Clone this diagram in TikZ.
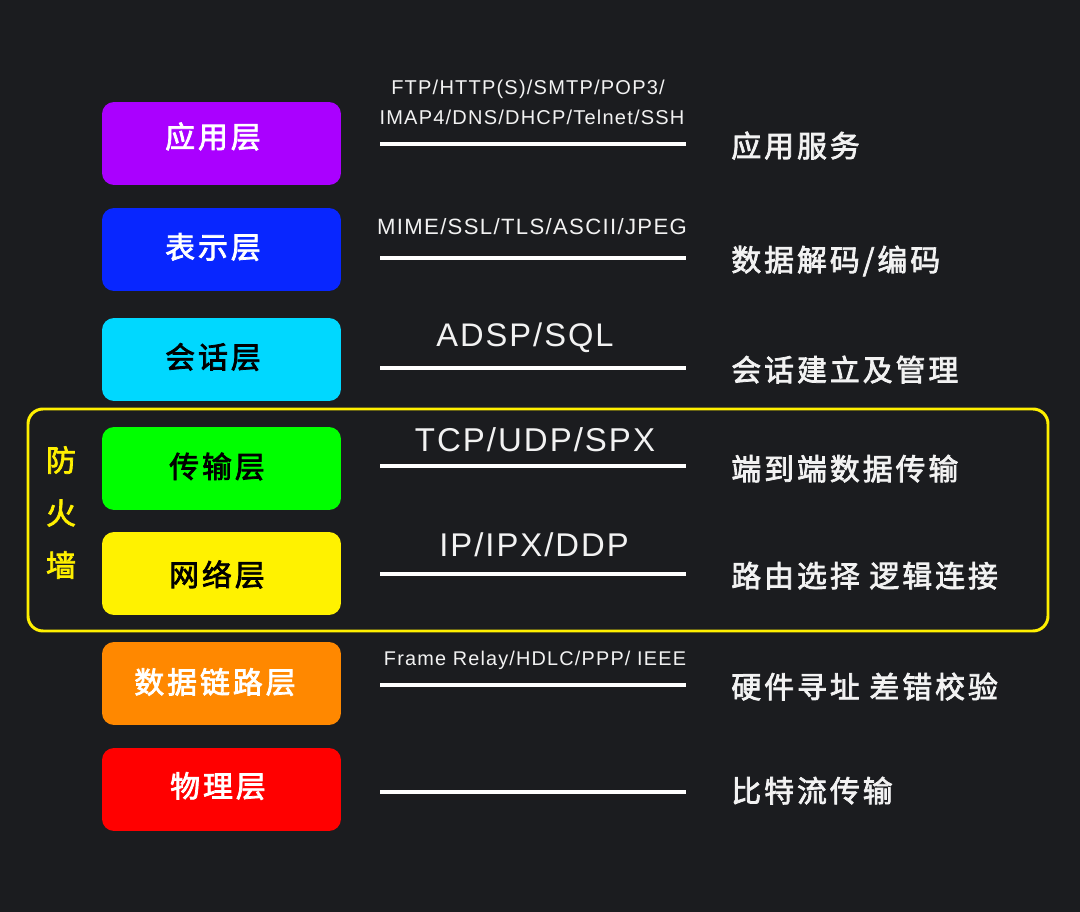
\documentclass[tikz,border=0pt]{standalone}
\usepackage{fontspec}
\setmainfont[LetterSpace=6]{Liberation Sans}
\newfontfamily\cjk[LetterSpace=10,FakeBold=2.5]{Noto Sans CJK SC}
\usetikzlibrary{positioning}

\definecolor{bgdark}{HTML}{1B1C1F}
\definecolor{appcol}{HTML}{AA00FF}
\definecolor{prescol}{HTML}{0826FF}
\definecolor{sesscol}{HTML}{00D8FF}
\definecolor{transcol}{HTML}{00FF00}
\definecolor{netcol}{HTML}{FFF200}
\definecolor{linkcol}{HTML}{FF8800}
\definecolor{physcol}{HTML}{FF0000}
\definecolor{wallcol}{HTML}{FFF000}
\definecolor{softwhite}{HTML}{F2F2F2}

\tikzset{
  layer/.style={rounded corners=0.24cm, minimum width=4.78cm, minimum height=1.66cm, inner sep=0pt},
  layertext/.style={inner sep=0pt, font=\cjk\fontsize{17}{19}\selectfont},
  proto/.style={anchor=base, inner sep=0pt, text=softwhite},
  func/.style={anchor=base west, inner sep=0pt, text=softwhite,
               font=\cjk\fontsize{17}{19}\selectfont},
  sepline/.style={draw=white, line width=2.2pt},
}

\begin{document}
\begin{tikzpicture}[x=0.02cm,y=-0.02cm]
    \fill[bgdark] (0,0) rectangle (1080,912);
    \useasboundingbox (0,0) rectangle (1080,912);

    % firewall frame
    \draw[wallcol, line width=1.7pt, rounded corners=0.3cm] (28,409) rectangle (1048,631);
    \node[layertext, text=wallcol] (wall1) at (61,460) {防};
    \node[layertext, text=wallcol] (wall2) at (61,513) {火};
    \node[layertext, text=wallcol] (wall3) at (61,565) {墙};

    % layers
    \node[layer, fill=appcol] (app) at (221.5,143.5) {};
    \node[layer, fill=prescol] (pres) at (221.5,249.5) {};
    \node[layer, fill=sesscol] (sess) at (221.5,359.5) {};
    \node[layer, fill=transcol] (trans) at (221.5,468.5) {};
    \node[layer, fill=netcol] (net) at (221.5,573.5) {};
    \node[layer, fill=linkcol] (link) at (221.5,683.5) {};
    \node[layer, fill=physcol] (phys) at (221.5,789.5) {};
    \node[layertext, text=white] (appL) at (213,136.5) {应用层};
    \node[layertext, text=white] (presL) at (213,247) {表示层};
    \node[layertext, text=black] (sessL) at (213,357) {会话层};
    \node[layertext, text=black] (transL) at (217,466.5) {传输层};
    \node[layertext, text=black] (netL) at (217,574.5) {网络层};
    \node[layertext, text=white] (linkL) at (215,682) {数据链路层};
    \node[layertext, text=white] (physL) at (218,786) {物理层};

    % protocols
    \node[proto, font=\fontsize{11.4}{13}\selectfont] (appP1) at (528,95) {FTP/HTTP(S)/SMTP/POP3/};
    \node[proto, font=\fontsize{11.4}{13}\selectfont] (appP2) at (532,125) {IMAP4/DNS/DHCP/Telnet/SSH};
    \node[proto, font=\fontsize{12.6}{14}\selectfont] (presP) at (532,235) {MIME/SSL/TLS/ASCII/JPEG};
    \node[proto, font=\fontsize{18.6}{21}\selectfont] (sessP) at (525,347) {ADSP/SQL};
    \node[proto, font=\fontsize{18.8}{21}\selectfont] (transP) at (535,452) {TCP/UDP/SPX};
    \node[proto, font=\fontsize{18.7}{21}\selectfont] (netP) at (534,557) {IP/IPX/DDP};
    \node[proto, font=\fontsize{11.3}{13}\selectfont] (linkP) at (535,665) {Frame Relay/HDLC/PPP/ IEEE};

    % separators
    \draw[sepline] (380,144) -- (686,144);
    \draw[sepline] (380,258) -- (686,258);
    \draw[sepline] (380,368) -- (686,368);
    \draw[sepline] (380,466) -- (686,466);
    \draw[sepline] (380,574) -- (686,574);
    \draw[sepline] (380,685) -- (686,685);
    \draw[sepline] (380,792) -- (686,792);

    % functions
    \node[func] (appF) at (731,157) {应用服务};
    \node[func] (presF) at (731,271) {数据解码/编码};
    \node[func] (sessF) at (731,381) {会话建立及管理};
    \node[func] (transF) at (731,480) {端到端数据传输};
    \node[func] (netF) at (731,587) {路由选择 逻辑连接};
    \node[func] (linkF) at (731,698) {硬件寻址 差错校验};
    \node[func] (physF) at (731,802) {比特流传输};
\end{tikzpicture}
\end{document}
